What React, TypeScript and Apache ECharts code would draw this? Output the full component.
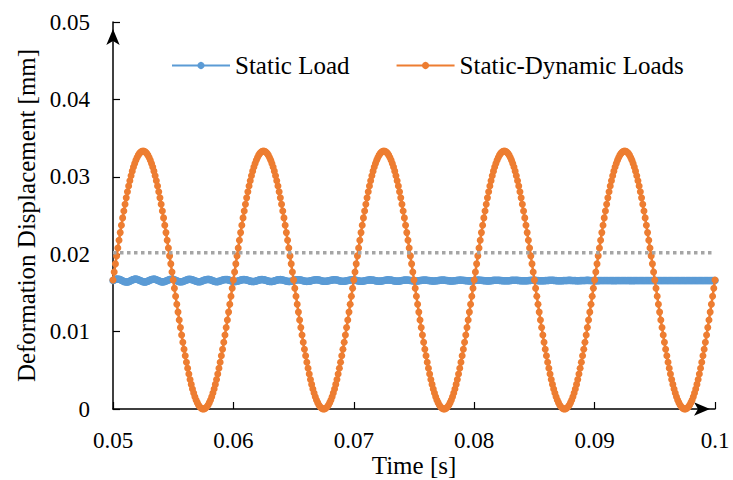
import React, { useEffect, useRef } from "react";
import * as echarts from "echarts";

// Sampling grid of the recorded signals (s)
const TIME_START = 0.05;
const TIME_STEP = 0.0001;

// Static-Dynamic Loads, deformation displacement [mm]
const staticDynamicLoads = [
  .01666,.01771,.01875,.01978,.0208,.02181,.02279,.02375,.02469,.02559,
  .02645,.02728,.02806,.0288,.0295,.03014,.03073,.03126,.03173,.03215,
  .0325,.0328,.03303,.03319,.03329,.03332,.03329,.03319,.03303,.0328,
  .0325,.03215,.03173,.03126,.03073,.03014,.0295,.0288,.02806,.02728,
  .02645,.02559,.02469,.02375,.02279,.02181,.0208,.01978,.01875,.01771,
  .01666,.01561,.01457,.01354,.01252,.01151,.01053,.00957,.00863,.00773,
  .00687,.00604,.00526,.00452,.00382,.00318,.00259,.00206,.00159,.00117,
  .00082,.00052,.0003,.00013,.00003,0,.00003,.00013,.0003,.00052,
  .00082,.00117,.00159,.00206,.00259,.00318,.00382,.00452,.00526,.00604,
  .00687,.00773,.00863,.00957,.01053,.01151,.01252,.01354,.01457,.01561,
  .01666,.01771,.01875,.01978,.0208,.02181,.02279,.02375,.02469,.02559,
  .02645,.02728,.02806,.0288,.0295,.03014,.03073,.03126,.03173,.03215,
  .0325,.0328,.03303,.03319,.03329,.03332,.03329,.03319,.03303,.0328,
  .0325,.03215,.03173,.03126,.03073,.03014,.0295,.0288,.02806,.02728,
  .02645,.02559,.02469,.02375,.02279,.02181,.0208,.01978,.01875,.01771,
  .01666,.01561,.01457,.01354,.01252,.01151,.01053,.00957,.00863,.00773,
  .00687,.00604,.00526,.00452,.00382,.00318,.00259,.00206,.00159,.00117,
  .00082,.00052,.0003,.00013,.00003,0,.00003,.00013,.0003,.00052,
  .00082,.00117,.00159,.00206,.00259,.00318,.00382,.00452,.00526,.00604,
  .00687,.00773,.00863,.00957,.01053,.01151,.01252,.01354,.01457,.01561,
  .01666,.01771,.01875,.01978,.0208,.02181,.02279,.02375,.02469,.02559,
  .02645,.02728,.02806,.0288,.0295,.03014,.03073,.03126,.03173,.03215,
  .0325,.0328,.03303,.03319,.03329,.03332,.03329,.03319,.03303,.0328,
  .0325,.03215,.03173,.03126,.03073,.03014,.0295,.0288,.02806,.02728,
  .02645,.02559,.02469,.02375,.02279,.02181,.0208,.01978,.01875,.01771,
  .01666,.01561,.01457,.01354,.01252,.01151,.01053,.00957,.00863,.00773,
  .00687,.00604,.00526,.00452,.00382,.00318,.00259,.00206,.00159,.00117,
  .00082,.00052,.0003,.00013,.00003,0,.00003,.00013,.0003,.00052,
  .00082,.00117,.00159,.00206,.00259,.00318,.00382,.00452,.00526,.00604,
  .00687,.00773,.00863,.00957,.01053,.01151,.01252,.01354,.01457,.01561,
  .01666,.01771,.01875,.01978,.0208,.02181,.02279,.02375,.02469,.02559,
  .02645,.02728,.02806,.0288,.0295,.03014,.03073,.03126,.03173,.03215,
  .0325,.0328,.03303,.03319,.03329,.03332,.03329,.03319,.03303,.0328,
  .0325,.03215,.03173,.03126,.03073,.03014,.0295,.0288,.02806,.02728,
  .02645,.02559,.02469,.02375,.02279,.02181,.0208,.01978,.01875,.01771,
  .01666,.01561,.01457,.01354,.01252,.01151,.01053,.00957,.00863,.00773,
  .00687,.00604,.00526,.00452,.00382,.00318,.00259,.00206,.00159,.00117,
  .00082,.00052,.0003,.00013,.00003,0,.00003,.00013,.0003,.00052,
  .00082,.00117,.00159,.00206,.00259,.00318,.00382,.00452,.00526,.00604,
  .00687,.00773,.00863,.00957,.01053,.01151,.01252,.01354,.01457,.01561,
  .01666,.01771,.01875,.01978,.0208,.02181,.02279,.02375,.02469,.02559,
  .02645,.02728,.02806,.0288,.0295,.03014,.03073,.03126,.03173,.03215,
  .0325,.0328,.03303,.03319,.03329,.03332,.03329,.03319,.03303,.0328,
  .0325,.03215,.03173,.03126,.03073,.03014,.0295,.0288,.02806,.02728,
  .02645,.02559,.02469,.02375,.02279,.02181,.0208,.01978,.01875,.01771,
  .01666,.01561,.01457,.01354,.01252,.01151,.01053,.00957,.00863,.00773,
  .00687,.00604,.00526,.00452,.00382,.00318,.00259,.00206,.00159,.00117,
  .00082,.00052,.0003,.00013,.00003,0,.00003,.00013,.0003,.00052,
  .00082,.00117,.00159,.00206,.00259,.00318,.00382,.00452,.00526,.00604,
  .00687,.00773,.00863,.00957,.01053,.01151,.01252,.01354,.01457,.01561,
  .01666,
];

// Static Load, deformation displacement [mm]
const staticLoad = [
  .0166,.01668,.01675,.01679,.0168,.01677,.01672,.01664,.01656,.01648,.01643,.0164,.01641,.01645,.01652,
  .0166,.01668,.01674,.01678,.01679,.01677,.01671,.01664,.01656,.01649,.01643,.01641,.01642,.01646,.01652,
  .0166,.01667,.01673,.01677,.01678,.01676,.01671,.01664,.01656,.01649,.01644,.01642,.01643,.01647,.01653,
  .0166,.01667,.01673,.01676,.01677,.01675,.0167,.01664,.01656,.0165,.01645,.01643,.01644,.01647,.01653,
  .0166,.01667,.01672,.01675,.01676,.01674,.01669,.01663,.01657,.01651,.01646,.01644,.01645,.01648,.01653,
  .0166,.01666,.01671,.01674,.01675,.01673,.01669,.01663,.01657,.01651,.01647,.01645,.01646,.01649,.01654,
  .0166,.01666,.0167,.01673,.01674,.01672,.01668,.01663,.01657,.01652,.01648,.01646,.01647,.0165,.01654,
  .0166,.01665,.0167,.01672,.01673,.01671,.01668,.01663,.01657,.01652,.01649,.01647,.01648,.0165,.01655,
  .0166,.01665,.0167,.01672,.01673,.01671,.01668,.01663,.01657,.01652,.01649,.01647,.01648,.0165,.01655,
  .0166,.01665,.01669,.01671,.01672,.0167,.01667,.01663,.01657,.01653,.0165,.01648,.01649,.01651,.01655,
  .0166,.01665,.01668,.0167,.01671,.0167,.01666,.01662,.01658,.01654,.0165,.01649,.0165,.01652,.01655,
  .0166,.01664,.01667,.0167,.0167,.01669,.01666,.01662,.01658,.01654,.01651,.0165,.0165,.01653,.01656,
  .0166,.01664,.01667,.0167,.0167,.01669,.01666,.01662,.01658,.01654,.01651,.0165,.0165,.01653,.01656,
  .0166,.01664,.01667,.01669,.01669,.01668,.01665,.01662,.01658,.01655,.01652,.01651,.01651,.01653,.01656,
  .0166,.01663,.01666,.01668,.01668,.01667,.01665,.01662,.01658,.01655,.01653,.01652,.01652,.01654,.01657,
  .0166,.01663,.01666,.01668,.01668,.01667,.01665,.01662,.01658,.01655,.01653,.01652,.01652,.01654,.01657,
  .0166,.01663,.01665,.01667,.01667,.01666,.01664,.01661,.01659,.01656,.01654,.01653,.01653,.01655,.01657,
  .0166,.01662,.01664,.01666,.01666,.01665,.01664,.01661,.01659,.01656,.01655,.01654,.01654,.01656,.01658,
  .0166,.01662,.01664,.01666,.01666,.01665,.01664,.01661,.01659,.01656,.01655,.01654,.01654,.01656,.01658,
  .0166,.01662,.01664,.01665,.01665,.01664,.01663,.01661,.01659,.01657,.01656,.01655,.01655,.01656,.01658,
  .0166,.01662,.01664,.01665,.01665,.01664,.01663,.01661,.01659,.01657,.01656,.01655,.01655,.01656,.01658,
  .0166,.01662,.01663,.01664,.01664,.01663,.01662,.01661,.01659,.01658,.01657,.01656,.01656,.01657,.01658,
  .0166,.01662,.01663,.01664,.01664,.01663,.01662,.01661,.01659,.01658,.01657,.01656,.01656,.01657,.01658,
  .0166,.01661,.01662,.01663,.01663,.01663,.01662,.01661,.01659,.01658,.01657,.01657,.01657,.01658,.01659,
  .0166,.01661,.01662,.01663,.01663,.01663,.01662,.01661,.01659,.01658,.01657,.01657,.01657,.01658,.01659,
  .0166,.01661,.01661,.01662,.01662,.01662,.01661,.0166,.0166,.01659,.01658,.01658,.01658,.01659,.01659,
  .0166,.01661,.01661,.01662,.01662,.01662,.01661,.0166,.0166,.01659,.01658,.01658,.01658,.01659,.01659,
  .0166,.0166,.01661,.01661,.01661,.01661,.01661,.0166,.0166,.01659,.01659,.01659,.01659,.01659,.0166,
  .0166,.0166,.01661,.01661,.01661,.01661,.01661,.0166,.0166,.01659,.01659,.01659,.01659,.01659,.0166,
  .0166,.0166,.0166,.0166,.0166,.0166,.0166,.0166,.0166,.0166,.0166,
  .0166,.0166,.0166,.0166,.0166,.0166,.0166,.0166,.0166,.0166,.0166,
  .0166,.0166,.0166,.0166,.0166,.0166,.0166,.0166,.0166,.0166,.0166,
  .0166,.0166,.0166,.0166,.0166,.0166,.0166,.0166,.0166,.0166,.0166,
  .0166,.0166,.0166,.0166,.0166,.0166,.0166,.0166,.0166,.0166,.0166,
  .0166,.0166,.0166,.0166,.0166,.0166,.0166,.0166,.0166,.0166,.0166,
];

// Grey dotted reference level [mm]
const referenceTimes = [0.05, 0.1];
const referenceLevel = [0.0202, 0.0202];

const X_MIN = 0.05;
const X_MAX = 0.1;
const X_STEP = 0.01;
const Y_MIN = 0;
const Y_MAX = 0.05;
const Y_STEP = 0.01;

const FONT = "'Liberation Serif', 'Times New Roman', serif";

const toPairs = (vals: number[]) =>
  vals.map((v, i) => [+(TIME_START + i * TIME_STEP).toFixed(4), v]);

export default function App() {
  const ref = useRef<HTMLDivElement>(null);

  useEffect(() => {
    document.body.style.margin = "0";
    if (!ref.current) return;
    const chart = echarts.init(ref.current, undefined, { renderer: "svg" });
    const fmt = (v: number) => (v === 0 ? "0" : String(+v.toFixed(2)));
    chart.setOption({
      animation: false,
      backgroundColor: "#ffffff",
      grid: {
        left: 113,
        right: 18,
        top: 22,
        bottom: 71,
        containLabel: false,
        outerBoundsMode: "none",
      },
      legend: {
        data: ["Static Load", "Static-Dynamic Loads"],
        left: 166,
        top: 48,
        itemWidth: 58,
        itemHeight: 9,
        itemGap: 46,
        lineStyle: { width: 2 },
        textStyle: { fontFamily: FONT, fontSize: 25, color: "#000" },
      },
      xAxis: {
        type: "value",
        min: X_MIN,
        max: X_MAX,
        interval: X_STEP,
        name: "Time [s]",
        nameLocation: "middle",
        nameGap: 44,
        nameMoveOverlap: false,
        nameTextStyle: { fontFamily: FONT, fontSize: 25, color: "#000" },
        axisLine: {
          show: true,
          symbol: ["none", "arrow"],
          symbolSize: [10, 16],
          symbolOffset: [0, -5],
          lineStyle: { color: "#000", width: 1.5 },
        },
        axisTick: { show: true, inside: true, length: 7, lineStyle: { color: "#000", width: 1.2 } },
        axisLabel: { fontFamily: FONT, fontSize: 23, color: "#000", margin: 20, formatter: fmt },
        splitLine: { show: false },
      },
      yAxis: {
        type: "value",
        min: Y_MIN,
        max: Y_MAX,
        interval: Y_STEP,
        name: "Deformation Displacement [mm]",
        nameLocation: "middle",
        nameGap: 74,
        nameMoveOverlap: false,
        nameTextStyle: { fontFamily: FONT, fontSize: 25, color: "#000" },
        axisLine: {
          show: true,
          symbol: ["none", "arrow"],
          symbolSize: [10, 16],
          symbolOffset: [0, -7],
          lineStyle: { color: "#000", width: 1.5 },
        },
        axisTick: { show: true, inside: true, length: 7, lineStyle: { color: "#000", width: 1.2 } },
        axisLabel: { fontFamily: FONT, fontSize: 23, color: "#000", margin: 23, formatter: fmt },
        splitLine: { show: false },
      },
      series: [
        {
          name: "Static Load",
          type: "line",
          data: toPairs(staticLoad),
          symbol: "circle",
          symbolSize: 7.5,
          showSymbol: true,
          silent: true,
          color: "#5B9BD5",
          itemStyle: { color: "#5B9BD5" },
          lineStyle: { color: "#5B9BD5", width: 3 },
          z: 2,
        },
        {
          name: "Static-Dynamic Loads",
          type: "line",
          data: toPairs(staticDynamicLoads),
          symbol: "circle",
          symbolSize: 7,
          showSymbol: true,
          silent: true,
          color: "#ED7D31",
          itemStyle: { color: "#ED7D31" },
          lineStyle: { color: "#ED7D31", width: 2.5 },
          z: 3,
        },
        {
          name: "Reference",
          type: "line",
          data: referenceTimes.map((t, i) => [t, referenceLevel[i]]),
          symbol: "none",
          silent: true,
          color: "#A5A5A5",
          lineStyle: { color: "#A5A5A5", width: 3.5, type: [3.5, 3.5] },
          z: 4,
        },
      ],
    });
    return () => chart.dispose();
  }, []);

  return <div ref={ref} style={{ width: 733, height: 480 }} />;
}
